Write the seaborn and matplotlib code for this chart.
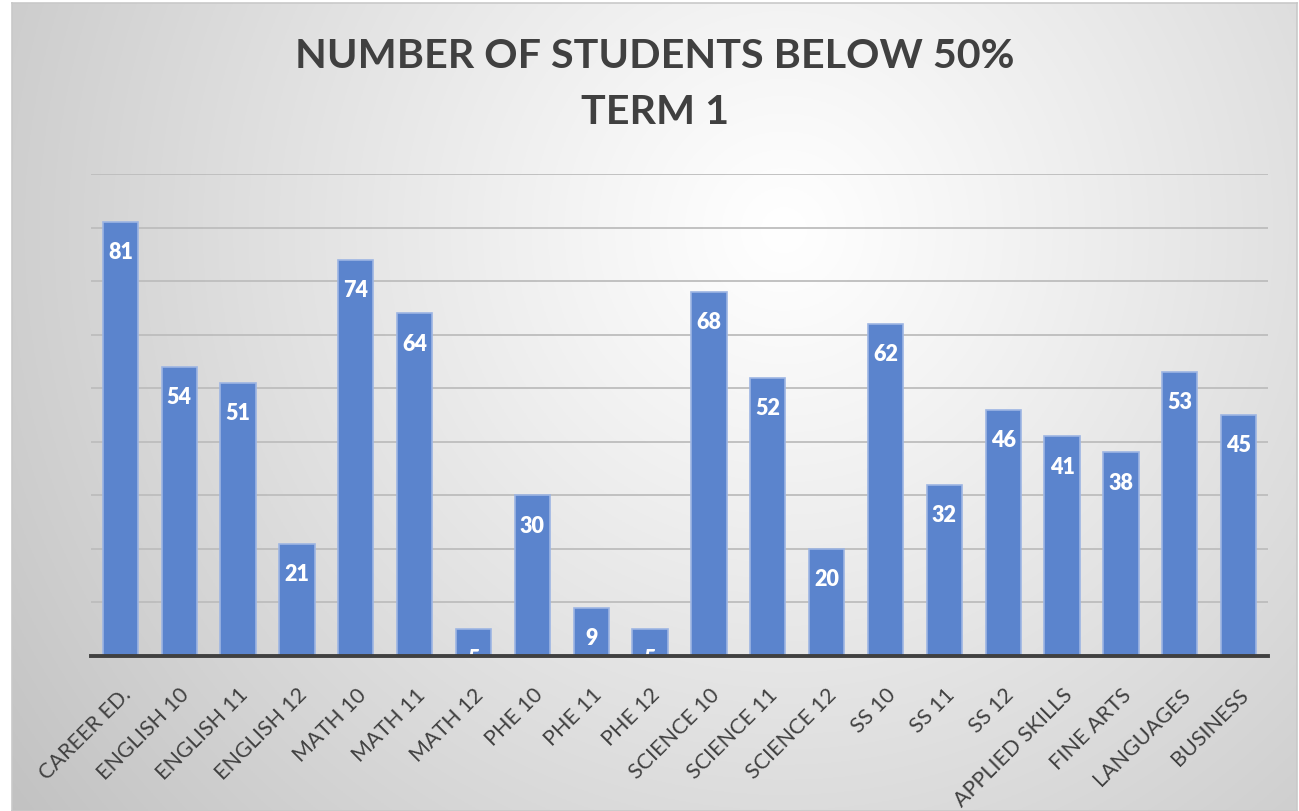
import numpy as np
import matplotlib
matplotlib.use("Agg")
import matplotlib.pyplot as plt
import seaborn as sns
import pandas as pd

categories = ["CAREER ED.", "ENGLISH 10", "ENGLISH 11", "ENGLISH 12", "MATH 10", "MATH 11",
              "MATH 12", "PHE 10", "PHE 11", "PHE 12", "SCIENCE 10", "SCIENCE 11", "SCIENCE 12",
              "SS 10", "SS 11", "SS 12", "APPLIED SKILLS", "FINE ARTS", "LANGUAGES", "BUSINESS"]
values = [81, 54, 51, 21, 74, 64, 5, 30, 9, 5, 68, 52, 20, 62, 32, 46, 41, 38, 53, 45]
title_lines = ["NUMBER OF STUDENTS BELOW 50%", "TERM 1"]

sns.set_theme(style="white")
plt.rcParams['font.family'] = ['Lato', 'DejaVu Sans']

W, H = 1299, 812
fig = plt.figure(figsize=(W / 100, H / 100), dpi=100)
fig.patch.set_facecolor("white")

# radial gradient background
bx0, by0 = 12 / W, 0
bw, bh = (1297 - 12) / W, (812 - 4) / H
bg = fig.add_axes([bx0, by0, bw, bh])
ny, nx = 400, 640
yy, xx = np.mgrid[0:ny, 0:nx]
cx, cy = nx * 0.60, ny * 0.28
r = np.sqrt(((xx - cx) / nx) ** 2 + ((yy - cy) / ny * 0.63) ** 2)
r = r / r.max()
val = 1.0 - 0.24 * np.clip(r, 0, 1) ** 1.1
img = np.dstack([val, val, val])
bg.imshow(img, aspect="auto", extent=[0, 1, 0, 1], origin="upper")
bg.set_xlim(0, 1)
bg.set_ylim(0, 1)
for s in bg.spines.values():
    s.set_color("#c9c9c9")
    s.set_linewidth(1.2)
bg.set_xticks([])
bg.set_yticks([])

ax = fig.add_axes([91 / W, 1 - 657 / H, (1268 - 91) / W, (657 - 175) / H])
ax.set_facecolor("none")
df = pd.DataFrame({"cat": categories, "val": values})
sns.barplot(data=df, x="cat", y="val", color="#5b84cd", width=0.6, ax=ax,
            saturation=1, edgecolor="#9db5e3", linewidth=1.2, zorder=3)
ax.set_ylim(0, 90)
ax.set_xlim(-0.5, len(categories) - 0.5)
ax.set_yticks(np.arange(10, 91, 10))
ax.yaxis.grid(True, color="#bdbdbd", linewidth=1.3, zorder=0)
ax.set_axisbelow(True)
ax.set_yticklabels([])
ax.tick_params(axis="y", length=0)
for s in ["top", "right", "left"]:
    ax.spines[s].set_visible(False)
ax.spines["bottom"].set_color("#404040")
ax.spines["bottom"].set_linewidth(2.8)
ax.spines["bottom"].set_zorder(5)
ax.set_xlabel("")
ax.set_ylabel("")
ax.tick_params(axis="x", length=0, pad=20)
plt.setp(ax.get_xticklabels(), rotation=45, ha="right", rotation_mode="anchor",
         color="#404040", fontsize=15.5)

for cont in ax.containers:
    texts = ax.bar_label(cont, labels=[str(v) for v in values], padding=-29,
                         color="white", fontsize=15.5, fontweight="heavy")
    for t, patch in zip(texts, cont.patches):
        t.set_clip_path(patch)

fig.text(655 / W, 1 - 57 / H, title_lines[0], ha="center", va="center",
         fontsize=29.7, fontweight="bold", color="#404040")
fig.text(655 / W, 1 - 112 / H, title_lines[1], ha="center", va="center",
         fontsize=29.7, fontweight="bold", color="#404040")

fig.savefig("out.png", dpi=100)
